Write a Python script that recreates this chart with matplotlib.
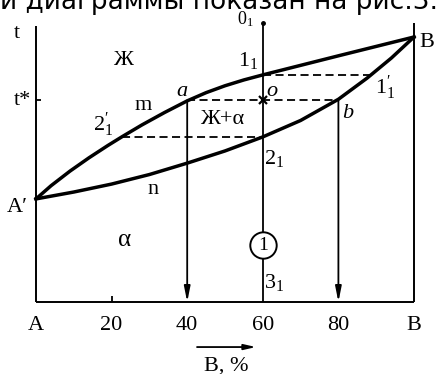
"""Phase diagram of a binary system with unlimited solubility (A-B)."""

import matplotlib
matplotlib.use("Agg")
import matplotlib.pyplot as plt

plt.rcParams["font.family"] = ["Liberation Serif", "DejaVu Serif"]
plt.rcParams["mathtext.fontset"] = "custom"
plt.rcParams["mathtext.rm"] = "Liberation Serif"
plt.rcParams["mathtext.it"] = "Liberation Serif:italic"
plt.rcParams["lines.scale_dashes"] = False

# composition, % B  /  temperature (arbitrary units, B melts at 100)
liquidus_x = [0, 4, 9, 14, 19, 22.8, 28, 34, 40, 45, 50, 55, 60, 70, 80, 90, 100]
liquidus_t = [38.9, 43.9, 49.4, 54.4, 59.05, 62.4, 66.8, 71.5, 75.9, 79.0,
              81.6, 83.8, 85.7, 89.3, 92.9, 96.45, 100]
solidus_x = [0, 10, 20, 30, 40, 50, 60, 70, 80, 87.6, 94, 100]
solidus_t = [38.9, 41.5, 44.5, 48.1, 52.4, 57.0, 62.3, 68.5, 76.5, 84.5, 92.05, 100]

tick_pos = [0, 20, 40, 60, 80, 100]
tick_labels = ["A", "20", "40", "60", "80", "B"]

alloy_x = 60            # alloy I
t_star = 76.1           # temperature t*
a_x, b_x = 40, 80       # phase compositions at t*
t_11, x_11p = 85.7, 88.6    # 1_1 and 1'_1
t_21, x_21p = 62.3, 22.8    # 2_1 and 2'_1
t_top = 105.3

PX = 3.78   # px per % B
PY = 2.65   # px per temperature unit

fig = plt.figure(figsize=(4.38, 3.74), dpi=100)
ax = fig.add_axes([0, 0, 1, 1])
ax.set_xlim(-36 / PX, (438 - 36) / PX)
ax.set_ylim((302 - 374) / PY, 302 / PY)
ax.axis("off")

k = dict(color="black", solid_capstyle="butt")
# frame
ax.plot([0, 0], [0, 104.2], lw=1.4, **k)
ax.plot([0, 100], [0, 0], lw=1.4, **k)
ax.plot([100, 100], [0, t_top], lw=1.4, **k)
ax.plot([alloy_x, alloy_x], [0, t_top], lw=1.3, **k)
ax.plot([20, 20], [0, 2.2], lw=1.3, **k)
ax.plot([0, 1.4], [t_star, t_star], lw=1.3, **k)
ax.plot([alloy_x], [t_top], marker="o", ms=2.5, color="black")

# liquidus / solidus
ax.plot(liquidus_x, liquidus_t, lw=2.5, color="black", solid_joinstyle="round")
ax.plot(solidus_x, solidus_t, lw=2.5, color="black", solid_joinstyle="round")

# tie lines
dash = dict(color="black", lw=1.3, linestyle=(0, (5.8, 3.2)))
ax.plot([alloy_x, x_11p], [t_11, t_11], **dash)
ax.plot([a_x, b_x], [t_star, t_star], **dash)
ax.plot([x_21p, alloy_x], [t_21, t_21], **dash)
ax.plot([alloy_x], [t_star], marker="x", ms=6, mew=1.6, color="black")

# arrows down from a and b
arr = dict(arrowstyle="-|>,head_length=0.9,head_width=0.18", color="black",
           lw=1.3, shrinkA=0, shrinkB=0)
for x in (a_x, b_x):
    ax.annotate("", xy=(x, 0), xytext=(x, t_star), arrowprops=arr)

# circled alloy number
ax.plot([alloy_x], [21.5], marker="o", ms=19, mfc="white", mec="black", mew=1.4)
ax.text(alloy_x, 21.5, "1", ha="center", va="center", fontsize=14)

# composition axis
for x, lab in zip(tick_pos, tick_labels):
    ax.text(x, -8.7, lab, ha="center", va="center", fontsize=16)
ax.annotate("", xy=(58.2, -17), xytext=(42.6, -17),
            arrowprops=dict(arrowstyle="-|>,head_length=0.7,head_width=0.16",
                            color="black", lw=1.3, shrinkA=0, shrinkB=0))
ax.text(50.3, -24, "B, %", ha="center", va="center", fontsize=16)

# labels
fs = 16
ax.text(-5, 101.5, "t", ha="center", va="center", fontsize=fs)
ax.text(-3.6, t_star, "t*", ha="center", va="center", fontsize=fs)
ax.text(-5, 35.5, "A\u2032", ha="center", va="center", fontsize=fs)
ax.text(103.3, 98.1, "B", ha="center", va="center", fontsize=fs)
ax.text(23, 91.3, "Ж", ha="center", va="center", fontsize=fs)
ax.text(28.3, 74.3, "m", ha="center", va="center", fontsize=fs)
ax.text(31, 42.3, "n", ha="center", va="center", fontsize=fs)
ax.text(23.5, 23.4, "α", ha="center", va="center", fontsize=fs + 2)
ax.text(49.2, 68.7, "Ж+α", ha="center", va="center", fontsize=fs)
ax.text(38.6, 79.6, "a", ha="center", va="center", fontsize=fs, style="italic")
ax.text(62.4, 79.6, "o", ha="center", va="center", fontsize=fs, style="italic")
ax.text(82.5, 71.3, "b", ha="center", va="center", fontsize=fs, style="italic")
ax.text(55.3, 106.6, "$0_1$", ha="center", va="center", fontsize=13)
ax.text(56, 91.3, "$1_1$", ha="center", va="center", fontsize=fs)
ax.text(92.3, 80.8, r"$1^{\prime}_1$", ha="center", va="center", fontsize=fs)
ax.text(62.9, 54.3, "$2_1$", ha="center", va="center", fontsize=fs)
ax.text(17.7, 66.8, r"$2^{\prime}_1$", ha="center", va="center", fontsize=fs)
ax.text(62.9, 7.5, "$3_1$", ha="center", va="center", fontsize=fs)

# clipped caption line from the page above
fig.text(0.0, 1 - 9 / 374, "и диаграммы показан на рис.3.", ha="left",
         va="baseline", fontsize=19, family=["DejaVu Sans"])

fig.savefig("out.png", dpi=100)
